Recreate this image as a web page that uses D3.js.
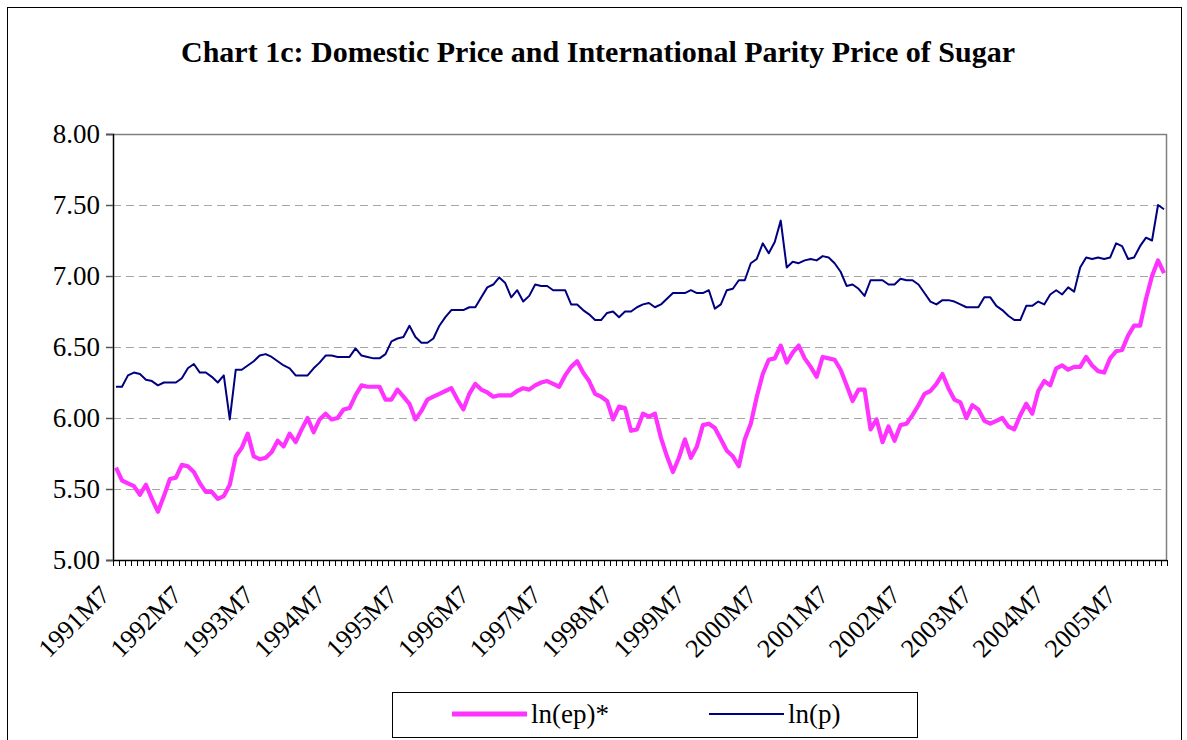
<!DOCTYPE html>
<html><head><meta charset="utf-8">
<script src="https://cdn.jsdelivr.net/npm/d3@7"></script>
<style>
body{margin:0;background:#fff;}
svg{display:block;font-family:"Liberation Serif","Times New Roman",serif;}
</style>
</head><body>
<svg id="c" width="1187" height="740"></svg>
<script>
// ---- data ----
const title = "Chart 1c: Domestic Price and International Parity Price of Sugar";
const firstYear = 1991, firstMonth = 7, monthCount = 176; // 1991M7 .. 2006M2
const tickLabels = ["1991M7","1992M7","1993M7","1994M7","1995M7","1996M7","1997M7","1998M7",
  "1999M7","2000M7","2001M7","2002M7","2003M7","2004M7","2005M7"];
const yTicks = [5.0, 5.5, 6.0, 6.5, 7.0, 7.5, 8.0];
const seriesNames = ["ln(ep)*", "ln(p)"];

// ln(ep)* : international parity price (pink)
const lnEp = [
5.65,5.56,5.54,5.52,5.46,5.53,5.43,5.34,5.45,5.57,
5.58,5.67,5.66,5.62,5.54,5.48,5.48,5.43,5.45,5.53,
5.73,5.79,5.89,5.73,5.71,5.72,5.76,5.84,5.80,5.89,
5.83,5.92,6.00,5.90,5.99,6.03,5.99,6.00,6.06,6.07,
6.16,6.23,6.22,6.22,6.22,6.13,6.13,6.20,6.15,6.10,
5.99,6.05,6.13,6.15,6.17,6.19,6.21,6.13,6.06,6.17,
6.24,6.20,6.18,6.15,6.16,6.16,6.16,6.19,6.21,6.20,
6.23,6.25,6.26,6.24,6.22,6.30,6.36,6.40,6.32,6.26,
6.17,6.15,6.12,5.99,6.08,6.07,5.91,5.92,6.03,6.01,
6.03,5.86,5.73,5.62,5.72,5.85,5.72,5.80,5.95,5.96,
5.93,5.85,5.77,5.73,5.66,5.85,5.96,6.15,6.31,6.41,
6.42,6.51,6.39,6.46,6.51,6.42,6.36,6.29,6.43,6.42,
6.41,6.34,6.23,6.12,6.20,6.20,5.92,5.99,5.83,5.94,
5.84,5.95,5.96,6.02,6.09,6.17,6.19,6.24,6.31,6.21,
6.13,6.11,6.00,6.09,6.06,5.98,5.96,5.98,6.00,5.94,
5.92,6.02,6.10,6.03,6.19,6.26,6.23,6.35,6.37,6.34,
6.36,6.36,6.43,6.37,6.33,6.32,6.42,6.47,6.48,6.58,
6.65,6.65,6.84,7.00,7.11,7.02];

// ln(p) : domestic price (navy)
const lnP = [
6.22,6.22,6.30,6.32,6.31,6.27,6.26,6.23,6.25,6.25,
6.25,6.28,6.35,6.38,6.32,6.32,6.29,6.25,6.30,5.99,
6.34,6.34,6.37,6.40,6.44,6.45,6.43,6.40,6.37,6.35,
6.30,6.30,6.30,6.35,6.39,6.44,6.44,6.43,6.43,6.43,
6.49,6.44,6.43,6.42,6.42,6.45,6.54,6.56,6.57,6.65,
6.57,6.53,6.53,6.56,6.65,6.71,6.76,6.76,6.76,6.78,
6.78,6.85,6.92,6.94,6.99,6.95,6.85,6.90,6.82,6.86,
6.94,6.93,6.93,6.90,6.90,6.90,6.80,6.80,6.76,6.73,
6.69,6.69,6.74,6.75,6.71,6.75,6.75,6.78,6.80,6.81,
6.78,6.80,6.84,6.88,6.88,6.88,6.90,6.88,6.88,6.90,
6.77,6.80,6.90,6.91,6.97,6.97,7.09,7.12,7.23,7.16,
7.24,7.39,7.06,7.10,7.09,7.11,7.12,7.11,7.14,7.13,
7.09,7.03,6.93,6.94,6.91,6.86,6.97,6.97,6.97,6.94,
6.94,6.98,6.97,6.97,6.94,6.88,6.82,6.80,6.83,6.83,
6.82,6.80,6.78,6.78,6.78,6.85,6.85,6.79,6.76,6.72,
6.69,6.69,6.79,6.79,6.82,6.80,6.87,6.90,6.87,6.92,
6.89,7.06,7.13,7.12,7.13,7.12,7.13,7.23,7.21,7.12,
7.13,7.21,7.27,7.25,7.50,7.47];

// category labels (months)
const categories = [];
for (let i = 0; i < monthCount; i++) {
  const m = firstMonth - 1 + i;
  categories.push((firstYear + Math.floor(m / 12)) + "M" + (m % 12 + 1));
}

// ---- layout ----
const plot = {left: 113, right: 1167, top: 134, bottom: 560};
const pink = "#ff33ff", navy = "#000080";

const svg = d3.select("#c");

// outer frame
svg.append("rect").attr("x", 7.5).attr("y", 7.5).attr("width", 1174).attr("height", 760)
  .attr("fill", "#fff").attr("stroke", "#000").attr("stroke-width", 1);

// title
svg.append("text").attr("x", 598).attr("y", 62).attr("text-anchor", "middle")
  .attr("font-size", 30).attr("font-weight", "bold").text(title);

const x = d3.scaleBand().domain(categories).range([plot.left, plot.right]).paddingInner(0).paddingOuter(0);
const y = d3.scaleLinear().domain([5, 8]).range([plot.bottom, plot.top]);
const bw = x.bandwidth();
const cx = c => x(c) + bw / 2;

// gridlines (dashed)
svg.append("g").selectAll("line").data(yTicks.filter(v => v > 5 && v < 8)).join("line")
  .attr("x1", plot.left).attr("x2", plot.right)
  .attr("y1", d => Math.round(y(d)) + 0.5).attr("y2", d => Math.round(y(d)) + 0.5)
  .attr("stroke", "#a6a6a6").attr("stroke-width", 1).attr("stroke-dasharray", "8,5");

// plot-area border (top & right)
svg.append("path")
  .attr("d", `M${plot.left},${plot.top + 0.5}H${plot.right - 0.5}V${plot.bottom}`)
  .attr("fill", "none").attr("stroke", "#808080").attr("stroke-width", 1.5);

// y axis
const yAxis = d3.axisLeft(y).tickValues(yTicks).tickFormat(d3.format(".2f")).tickSize(7).tickPadding(6);
const gy = svg.append("g").attr("transform", `translate(${plot.left},0)`).call(yAxis);
gy.select(".domain").attr("stroke", "#000").attr("stroke-width", 1.5);
gy.selectAll(".tick line").attr("stroke", "#555").attr("stroke-width", 1.5);
gy.selectAll(".tick text").attr("font-size", 27).attr("font-family", "Liberation Serif").attr("fill", "#000");

// x axis line + category ticks
svg.append("line").attr("x1", plot.left).attr("x2", plot.right)
  .attr("y1", plot.bottom + 0.5).attr("y2", plot.bottom + 0.5)
  .attr("stroke", "#000").attr("stroke-width", 1.5);
const boundaries = categories.map(c => x(c)).concat([x.range()[1]]);
svg.append("g").selectAll("line").data(boundaries).join("line")
  .attr("x1", d => Math.round(d) + 0.5).attr("x2", d => Math.round(d) + 0.5)
  .attr("y1", plot.bottom).attr("y2", plot.bottom + 6)
  .attr("stroke", "#000").attr("stroke-width", 1);

// x labels rotated
svg.append("g").selectAll("text").data(tickLabels).join("text")
  .attr("transform", d => `translate(${cx(d) - 11},${plot.bottom + 30}) rotate(-45)`)
  .attr("text-anchor", "end").attr("dy", "0.35em")
  .attr("font-size", 26).text(d => d);

// lines
const line = d3.line().x((d, i) => cx(categories[i])).y(d => y(d)).curve(d3.curveLinear);
svg.append("path").datum(lnEp).attr("d", line).attr("fill", "none")
  .attr("stroke", pink).attr("stroke-width", 4.2).attr("stroke-linejoin", "round");
svg.append("path").datum(lnP).attr("d", line).attr("fill", "none")
  .attr("stroke", navy).attr("stroke-width", 2).attr("stroke-linejoin", "round");

// legend
const lg = svg.append("g");
lg.append("rect").attr("x", 392.5).attr("y", 692.5).attr("width", 525).attr("height", 45)
  .attr("fill", "#fff").attr("stroke", "#000").attr("stroke-width", 1);
const legendItems = [
  {name: seriesNames[0], color: pink, w: 5, x1: 452, x2: 527},
  {name: seriesNames[1], color: navy, w: 2, x1: 709, x2: 784}
];
legendItems.forEach(it => {
  lg.append("line").attr("x1", it.x1).attr("x2", it.x2).attr("y1", 714).attr("y2", 714)
    .attr("stroke", it.color).attr("stroke-width", it.w);
  lg.append("text").attr("x", it.x2 + 4).attr("y", 723).attr("font-size", 27).text(it.name);
});
</script>
</body></html>
